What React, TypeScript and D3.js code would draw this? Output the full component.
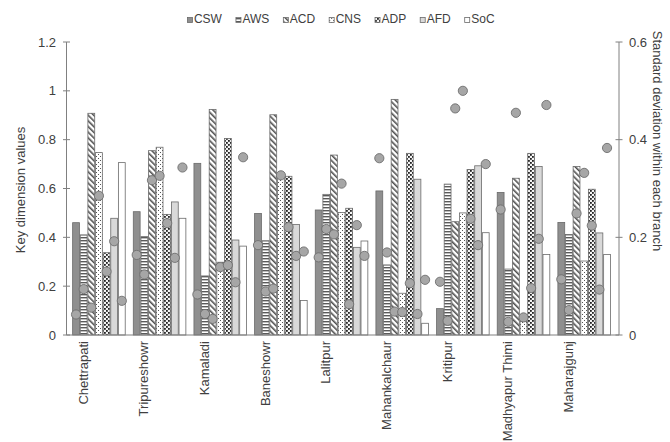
import React, { useEffect, useRef } from "react";
import * as d3 from "d3";

const categories = ["Chettrapati", "Tripureshowr", "Kamaladi", "Baneshowr", "Lalitpur", "Mahankalchaur", "Kritipur", "Madhyapur Thimi", "Maharajgunj"];
const seriesNames = ["CSW", "AWS", "ACD", "CNS", "ADP", "AFD", "SoC"];

const CSW = [0.46, 0.505, 0.703, 0.498, 0.512, 0.59, 0.108, 0.584, 0.461];
const AWS = [0.41, 0.403, 0.242, 0.386, 0.576, 0.287, 0.618, 0.27, 0.412];
const ACD = [0.908, 0.755, 0.924, 0.902, 0.737, 0.965, 0.464, 0.642, 0.69];
const CNS = [0.747, 0.769, 0.298, 0.66, 0.502, 0.171, 0.5, 0.055, 0.303];
const ADP = [0.337, 0.494, 0.805, 0.65, 0.519, 0.744, 0.678, 0.744, 0.597];
const AFD = [0.478, 0.545, 0.389, 0.453, 0.359, 0.638, 0.693, 0.69, 0.418];
const SoC = [0.706, 0.478, 0.364, 0.141, 0.385, 0.048, 0.419, 0.33, 0.33];

const sdCSW = [0.042, 0.164, 0.083, 0.184, 0.159, 0.362, 0.109, 0.257, 0.114];
const sdAWS = [0.094, 0.124, 0.043, 0.089, 0.217, 0.169, 0.029, 0.027, 0.051];
const sdACD = [0.056, 0.317, 0.033, 0.095, 0.206, 0.048, 0.464, 0.455, 0.249];
const sdCNS = [0.285, 0.326, 0.139, 0.327, 0.31, 0.047, 0.5, 0.036, 0.332];
const sdADP = [0.13, 0.229, 0.143, 0.221, 0.063, 0.106, 0.238, 0.096, 0.224];
const sdAFD = [0.192, 0.158, 0.108, 0.162, 0.225, 0.043, 0.184, 0.197, 0.093];
const sdSoC = [0.07, 0.343, 0.364, 0.171, 0.162, 0.113, 0.35, 0.471, 0.383];

const leftTicks = [0, 0.2, 0.4, 0.6, 0.8, 1, 1.2];
const rightTicks = [0, 0.2, 0.4, 0.6];

const values = [CSW, AWS, ACD, CNS, ADP, AFD, SoC];
const sds = [sdCSW, sdAWS, sdACD, sdCNS, sdADP, sdAFD, sdSoC];

const FONT = "'Liberation Sans', Arial, sans-serif";
const TEXT = "#404040";
const AXIS = "#808080";
const fills = ["#8f8f8f", "url(#pAWS)", "url(#pACD)", "url(#pCNS)", "url(#pADP)", "#d9d9d9", "#ffffff"];

export default function App() {
  const ref = useRef<SVGSVGElement | null>(null);

  useEffect(() => {
    const svg = d3.select(ref.current);
    svg.selectAll("*").remove();

    const defs = svg.append("defs");
    const pAWS = defs.append("pattern").attr("id", "pAWS").attr("patternUnits", "userSpaceOnUse").attr("width", 4).attr("height", 3);
    pAWS.append("rect").attr("width", 4).attr("height", 3).attr("fill", "#fff");
    pAWS.append("rect").attr("y", 0).attr("width", 4).attr("height", 1.4).attr("fill", "#5a5a5a");

    const pACD = defs.append("pattern").attr("id", "pACD").attr("patternUnits", "userSpaceOnUse").attr("width", 4).attr("height", 4).attr("patternTransform", "rotate(-45)");
    pACD.append("rect").attr("width", 4).attr("height", 4).attr("fill", "#fff");
    pACD.append("rect").attr("width", 1.6).attr("height", 4).attr("fill", "#505050");

    const pCNS = defs.append("pattern").attr("id", "pCNS").attr("patternUnits", "userSpaceOnUse").attr("width", 4).attr("height", 4);
    pCNS.append("rect").attr("width", 4).attr("height", 4).attr("fill", "#fff");
    pCNS.append("rect").attr("x", 0).attr("y", 0).attr("width", 1).attr("height", 1).attr("fill", "#555");
    pCNS.append("rect").attr("x", 2).attr("y", 2).attr("width", 1).attr("height", 1).attr("fill", "#555");

    const pADP = defs.append("pattern").attr("id", "pADP").attr("patternUnits", "userSpaceOnUse").attr("width", 4).attr("height", 4);
    pADP.append("rect").attr("width", 4).attr("height", 4).attr("fill", "#f4f4f4");
    pADP.append("rect").attr("x", 0).attr("y", 0).attr("width", 1.8).attr("height", 1.8).attr("fill", "#222");
    pADP.append("rect").attr("x", 2).attr("y", 2).attr("width", 1.8).attr("height", 1.8).attr("fill", "#222");

    const yL = d3.scaleLinear().domain([0, 1.2]).range([335, 42]);
    const yR = d3.scaleLinear().domain([0, 0.6]).range([335, 42]);
    const x0 = d3.scaleBand<string>().domain(categories).range([68.6, 614.5]).paddingInner(0.12).paddingOuter(0.06);
    const x1 = d3.scaleBand<string>().domain(seriesNames).range([0, x0.bandwidth()]);
    const plotLeft = 66.5;
    const plotRight = 619;

    // bars
    const g = svg.append("g");
    seriesNames.forEach((s, si) => {
      g.selectAll(null)
        .data(categories)
        .enter()
        .append("rect")
        .attr("x", (c) => (x0(c) as number) + (x1(s) as number) + 0.4)
        .attr("y", (_c, ci) => yL(values[si][ci]))
        .attr("width", x1.bandwidth() - 0.8)
        .attr("height", (_c, ci) => yL(0) - yL(values[si][ci]))
        .attr("fill", fills[si])
        .attr("stroke", "#6a6a6a")
        .attr("stroke-width", 0.8);
    });

    // circles
    seriesNames.forEach((s, si) => {
      g.selectAll(null)
        .data(categories)
        .enter()
        .append("circle")
        .attr("cx", (c) => (x0(c) as number) + (x1(s) as number) + x1.bandwidth() / 2)
        .attr("cy", (_c, ci) => yR(sds[si][ci]))
        .attr("r", 4.6)
        .attr("fill", "#a6a6a6")
        .attr("stroke", "#6e6e6e")
        .attr("stroke-width", 0.9);
    });

    // axes
    const ax = svg.append("g").attr("stroke", AXIS).attr("stroke-width", 1);
    ax.append("line").attr("x1", plotLeft).attr("x2", plotLeft).attr("y1", yL(1.2)).attr("y2", yL(0));
    ax.append("line").attr("x1", plotRight).attr("x2", plotRight).attr("y1", yR(0.6)).attr("y2", yR(0));
    ax.append("line").attr("x1", plotLeft).attr("x2", plotRight).attr("y1", yL(0)).attr("y2", yL(0));
    leftTicks.forEach((t) => {
      ax.append("line").attr("x1", plotLeft - 3.5).attr("x2", plotLeft + 3.5).attr("y1", yL(t)).attr("y2", yL(t));
    });
    rightTicks.forEach((t) => {
      ax.append("line").attr("x1", plotRight - 3.5).attr("x2", plotRight + 3.5).attr("y1", yR(t)).attr("y2", yR(t));
    });

    const txt = svg.append("g").attr("font-family", FONT).attr("fill", TEXT).attr("font-size", 13);
    leftTicks.forEach((t) => {
      txt.append("text").attr("x", 56).attr("y", yL(t)).attr("dy", "0.35em").attr("text-anchor", "end").text(d3.format("~g")(t));
    });
    rightTicks.forEach((t) => {
      txt.append("text").attr("x", 629).attr("y", yR(t)).attr("dy", "0.35em").attr("text-anchor", "start").text(d3.format("~g")(t));
    });

    categories.forEach((c) => {
      const cx = (x0(c) as number) + 11;
      txt.append("text")
        .attr("transform", `translate(${cx},341) rotate(-90)`)
        .attr("text-anchor", "end")
        .attr("dy", "0.35em")
        .text(c);
    });

    txt.append("text")
      .attr("transform", `translate(20,190) rotate(-90)`)
      .attr("text-anchor", "middle")
      .attr("dy", "0.35em")
      .text("Key dimension values");
    txt.append("text")
      .attr("transform", `translate(658,141) rotate(90)`)
      .attr("text-anchor", "middle")
      .attr("dy", "0.35em")
      .text("Standard deviation within each branch");

    // legend
    const lg = svg.append("g").attr("font-family", FONT).attr("fill", TEXT).attr("font-size", 12);
    const items = seriesNames.map((s, si) => {
      const it = lg.append("g");
      it.append("rect").attr("x", 0).attr("y", 17.5).attr("width", 5).attr("height", 5).attr("fill", fills[si]).attr("stroke", "#6a6a6a").attr("stroke-width", 0.8);
      const t = it.append("text").attr("x", 6.5).attr("y", 23).text(s);
      const w = 6.5 + (t.node() as SVGTextElement).getComputedTextLength();
      return { it, w };
    });
    const gap = 14;
    const total = items.reduce((a, b) => a + b.w, 0) + gap * (items.length - 1);
    let cur = 341 - total / 2;
    items.forEach(({ it, w }) => {
      it.attr("transform", `translate(${cur},0)`);
      cur += w + gap;
    });
  }, []);

  return (
    <svg
      ref={ref}
      width={670}
      height={442}
      style={{ position: "absolute", left: 0, top: 0, background: "#fff" }}
    />
  );
}
